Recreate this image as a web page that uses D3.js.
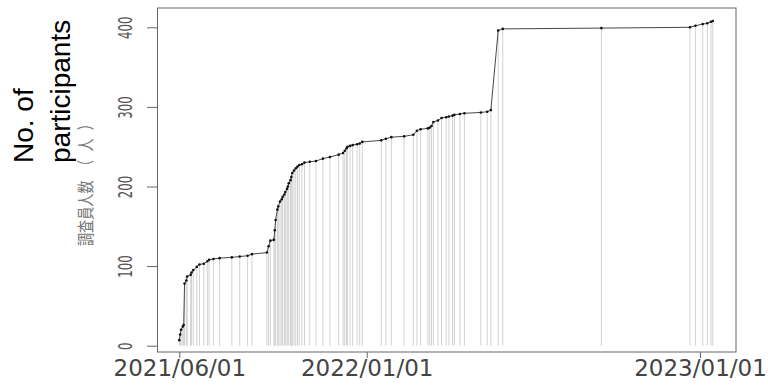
<!DOCTYPE html>
<html>
<head>
<meta charset="utf-8">
<script src="https://cdn.jsdelivr.net/npm/d3@7"></script>
<style>
  html, body { margin: 0; padding: 0; background: #fff; }
  svg { display: block; }
</style>
</head>
<body>
<div id="chart"></div>
<script>
  'use strict';

  // Survey dates and cumulative number of participants
  const dates = [
    '2021-06-01', '2021-06-02', '2021-06-03', '2021-06-05', '2021-06-06', '2021-06-07',
    '2021-06-09', '2021-06-10', '2021-06-14', '2021-06-15', '2021-06-17', '2021-06-21',
    '2021-06-24', '2021-06-29', '2021-07-03', '2021-07-05', '2021-07-10', '2021-07-17',
    '2021-07-31', '2021-08-09', '2021-08-18', '2021-08-23', '2021-09-09', '2021-09-11',
    '2021-09-13', '2021-09-17', '2021-09-18', '2021-09-19', '2021-09-21', '2021-09-22',
    '2021-09-24', '2021-09-26', '2021-09-27', '2021-09-29', '2021-09-30', '2021-10-02',
    '2021-10-03', '2021-10-04', '2021-10-06', '2021-10-07', '2021-10-08', '2021-10-10',
    '2021-10-12', '2021-10-14', '2021-10-16', '2021-10-19', '2021-10-22', '2021-10-28',
    '2021-11-04', '2021-11-12', '2021-11-20', '2021-11-30', '2021-12-05', '2021-12-07',
    '2021-12-09', '2021-12-10', '2021-12-13', '2021-12-16', '2021-12-21', '2021-12-24',
    '2021-12-27', '2022-01-17', '2022-01-22', '2022-01-28', '2022-02-11', '2022-02-21',
    '2022-02-25', '2022-03-01', '2022-03-09', '2022-03-11', '2022-03-13', '2022-03-15',
    '2022-03-20', '2022-03-24', '2022-03-29', '2022-04-01', '2022-04-05', '2022-04-07',
    '2022-04-13', '2022-04-18', '2022-05-06', '2022-05-13', '2022-05-17', '2022-05-25',
    '2022-05-30', '2022-09-15', '2022-12-21', '2022-12-27', '2023-01-04', '2023-01-09',
    '2023-01-13', '2023-01-15'
  ];
  const counts = [
    7, 14, 20, 24, 26, 78,
    82, 87, 89, 92, 95, 99,
    102, 103, 106, 108, 109, 110,
    111, 112, 113, 115, 117, 125,
    132, 133, 145, 158, 171, 175,
    181, 184, 187, 190, 193, 197,
    200, 204, 208, 212, 217, 220,
    223, 225, 227, 228, 230, 231,
    232, 235, 237, 240, 242, 245,
    248, 250, 251, 252, 253, 254,
    256, 258, 260, 262, 263, 265,
    270, 272, 273, 274, 276, 281,
    283, 286, 287, 288, 289, 290,
    291, 292, 293, 294, 296, 396,
    398, 399, 400, 402, 404, 405,
    407, 408
  ];

  const yTicks = [0, 100, 200, 300, 400];
  const xTickLabels = ['2021/06/01', '2022/01/01', '2023/01/01'];

  const width = 768, height = 386;
  const box = { left: 157.5, right: 736, top: 8, bottom: 352 };

  const parse = d3.timeParse('%Y-%m-%d');
  const fmt = d3.timeParse('%Y/%m/%d');
  const data = dates.map((d, i) => ({ date: parse(d), n: counts[i] }));
  const xTickDates = xTickLabels.map(fmt);

  const x = d3.scaleTime()
    .domain(xTickDates)
    .range([179.3, 366.7, 700]);

  const y = d3.scaleLinear()
    .domain([0, 400])
    .range([345.7, 27.3]);

  const svg = d3.select('#chart')
    .append('svg')
    .attr('width', width)
    .attr('height', height);

  // One thin gray drop line per survey date
  svg.append('g')
    .selectAll('line')
    .data(data)
    .join('line')
    .attr('x1', d => x(d.date))
    .attr('x2', d => x(d.date))
    .attr('y1', d => y(d.n))
    .attr('y2', y(0))
    .attr('stroke', '#d2d2d2')
    .attr('stroke-width', 1);

  // Cumulative line and points
  const line = d3.line()
    .x(d => x(d.date))
    .y(d => y(d.n));

  svg.append('path')
    .datum(data)
    .attr('d', line)
    .attr('fill', 'none')
    .attr('stroke', '#333')
    .attr('stroke-width', 0.9);

  svg.append('g')
    .selectAll('circle')
    .data(data)
    .join('circle')
    .attr('cx', d => x(d.date))
    .attr('cy', d => y(d.n))
    .attr('r', 1.3)
    .attr('fill', '#111');

  // Plot frame
  svg.append('rect')
    .attr('x', box.left)
    .attr('y', box.top)
    .attr('width', box.right - box.left)
    .attr('height', box.bottom - box.top)
    .attr('fill', 'none')
    .attr('stroke', '#666')
    .attr('stroke-width', 1);

  // Y axis, R style with labels turned
  const yAxis = svg.append('g')
    .attr('transform', 'translate(' + box.left + ',0)')
    .call(d3.axisLeft(y).tickValues(yTicks).tickSize(10.5).tickFormat(d3.format('d')));
  yAxis.select('.domain').remove();
  yAxis.selectAll('.tick line').attr('stroke', '#666');
  yAxis.selectAll('.tick text')
    .attr('x', null)
    .attr('dy', null)
    .attr('text-anchor', 'middle')
    .attr('transform', 'translate(-25.5,0) rotate(-90) scale(0.62,1)')
    .attr('fill', '#555')
    .attr('font-family', 'DejaVu Sans')
    .attr('font-size', 19);

  // X axis
  const xAxis = svg.append('g')
    .attr('transform', 'translate(0,' + box.bottom + ')')
    .call(d3.axisBottom(x).tickValues(xTickDates).tickSize(6).tickFormat(d3.timeFormat('%Y/%m/%d')));
  xAxis.select('.domain').remove();
  xAxis.selectAll('.tick line').attr('stroke', '#666');
  xAxis.selectAll('.tick text')
    .attr('y', 24)
    .attr('dy', null)
    .attr('fill', '#444')
    .attr('font-family', 'DejaVu Sans')
    .attr('font-size', 23);

  // Axis titles
  const jaTitle = svg.append('text')
    .attr('transform', 'translate(92,246) rotate(-90) scale(0.75,1)')
    .attr('fill', '#777')
    .attr('font-family', 'Noto Sans CJK JP')
    .attr('font-size', 17.5);
  jaTitle.append('tspan').text('調査員人数');
  jaTitle.append('tspan')
    .attr('dx', 10)
    .attr('letter-spacing', 11)
    .text('（人）');

  const enTitle = svg.append('g')
    .attr('font-family', 'Liberation Sans, Arial, sans-serif')
    .attr('font-size', 28)
    .attr('fill', '#000');
  enTitle.append('text')
    .attr('transform', 'translate(33,163) rotate(-90)')
    .text('No. of');
  enTitle.append('text')
    .attr('transform', 'translate(70,163) rotate(-90)')
    .text('participants');
</script>
</body>
</html>
